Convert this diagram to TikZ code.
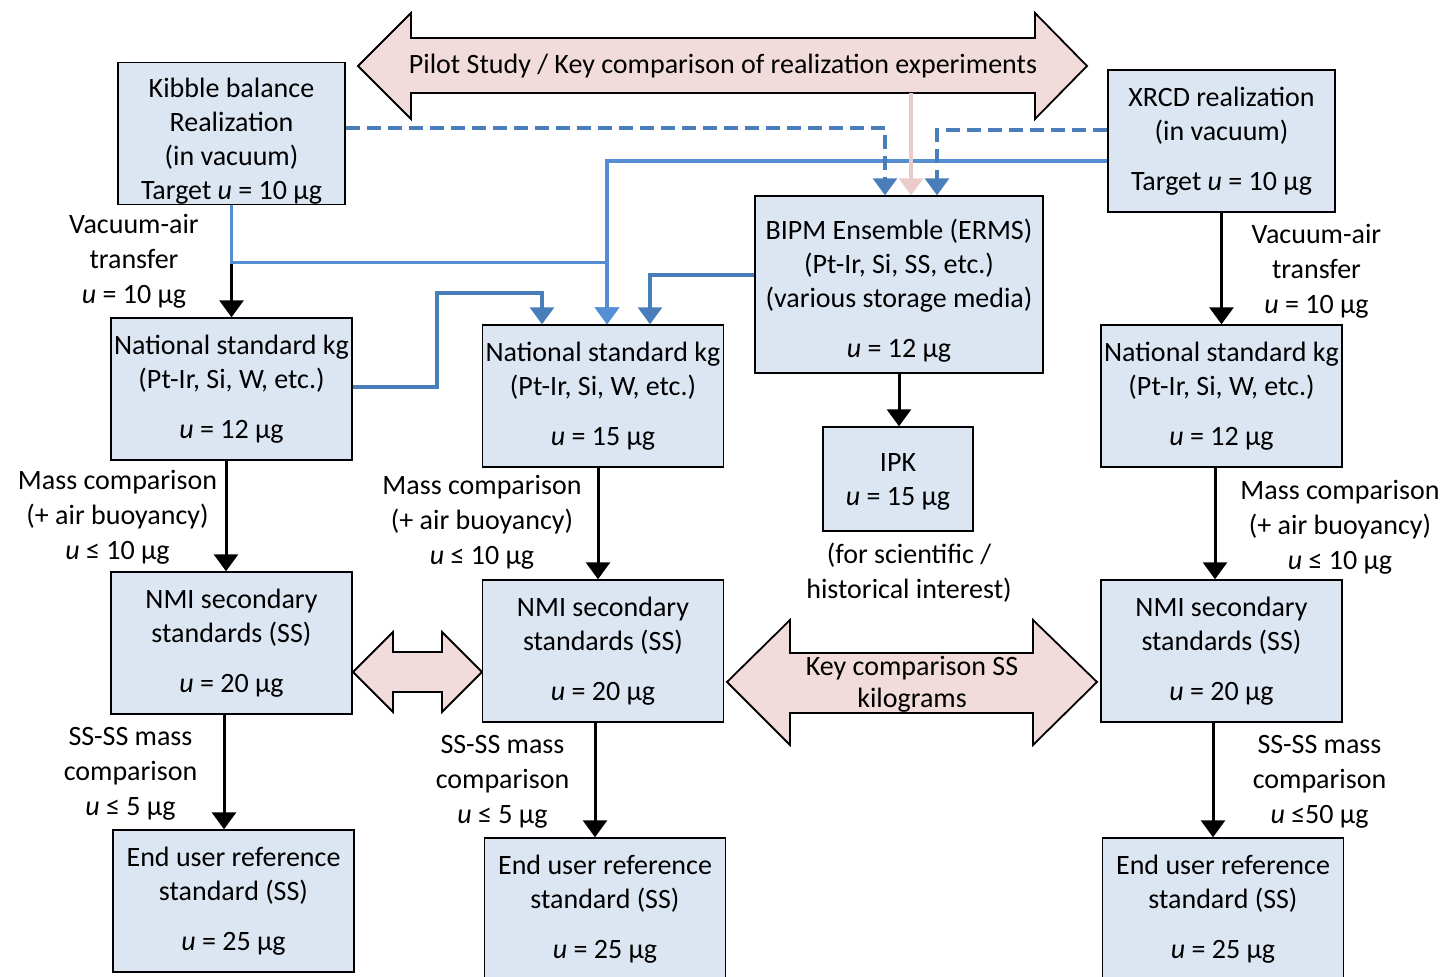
\documentclass[tikz,border=0pt]{standalone}
\usepackage{fontspec}
\setmainfont{Carlito}
\usetikzlibrary{arrows.meta,calc}
\usepackage{xcolor}
\definecolor{boxblue}{HTML}{DCE6F2}
\definecolor{pinkfill}{HTML}{F2DCDB}
\definecolor{pinkline}{HTML}{EBCBCA}
\definecolor{darkblue}{HTML}{4A7EBB}
\definecolor{lightblue}{HTML}{558ED5}
\tikzset{
  stdbox/.style={draw=black, line width=0.7pt, fill=boxblue, align=center, inner sep=0pt,
    minimum width=120.5pt, minimum height=71pt, font=\fontsize{14}{17}\selectfont},
  lbl/.style={align=center, inner sep=0pt, font=\fontsize{14}{17.5}\selectfont},
  bigarrow/.style={draw=black, line width=0.9pt, fill=pinkfill},
  blackarrow/.style={-{Triangle[width=12pt,length=8.5pt]}, line width=1.5pt, draw=black},
  bluearrow/.style={-{Triangle[width=12pt,length=8.5pt]}, line width=1.6pt, draw=darkblue},
  lightarrow/.style={bluearrow, draw=lightblue},
  dasharrow/.style={bluearrow, dash pattern=on 7pt off 3.5pt},
  pinkarrow/.style={bluearrow, draw=pinkline}
}
\newcommand{\topstrut}[1]{\rule{0pt}{#1}}

\begin{document}
\begin{tikzpicture}[x=0.5pt, y=-0.5pt]
  \useasboundingbox (0,0) rectangle (1447,977);

  % double arrows
  \draw[bigarrow] (358,66) -- (411,13) -- (411,38) -- (1035,38) -- (1035,13) -- (1087,66)
    -- (1035,119) -- (1035,93) -- (411,93) -- (411,119) -- cycle;
  \draw[bigarrow] (353,672) -- (393,632) -- (393,652) -- (442,652) -- (442,632) -- (482,672)
    -- (442,712) -- (442,692) -- (393,692) -- (393,712) -- cycle;
  \draw[bigarrow] (727,682) -- (790,620) -- (790,653) -- (1033,653) -- (1033,620) -- (1097,682)
    -- (1033,745) -- (1033,713) -- (790,713) -- (790,745) -- cycle;
  \node[lbl] (pilot) at (723,66) {Pilot Study / Key comparison of realization experiments};
  \node[lbl, font=\fontsize{14}{16}\selectfont] (keycomp) at (912,684) {Key comparison SS\\kilograms};
  \coordinate (pilotfoot) at (911,93);

  % boxes
  \node[stdbox, minimum width=113.5pt] (kibble) at (231.5,133.5)
    {\topstrut{17.5pt}Kibble balance\\Realization\\(in vacuum)\\Target \textit{u} = 10 µg};
  \node[stdbox, minimum width=113.5pt] (xrcd) at (1221.5,141)
    {XRCD realization\\(in vacuum)\\[8pt]Target \textit{u} = 10 µg};
  \node[stdbox, minimum width=144pt, minimum height=88.5pt] (bipm) at (899,284.5)
    {\topstrut{16.5pt}BIPM Ensemble (ERMS)\\(Pt-Ir, Si, SS, etc.)\\(various storage media)\\[8pt]\textit{u} = 12 µg};
  \node[stdbox, minimum width=75pt, minimum height=52pt] (ipk) at (898,479)
    {\topstrut{11.5pt}IPK\\\textit{u} = 15 µg};

  \node[stdbox] (nsl) at (231.5,389) {National standard kg\\(Pt-Ir, Si, W, etc.)\\[8pt]\textit{u} = 12 µg};
  \node[stdbox] (nsm) at (603,396) {National standard kg\\(Pt-Ir, Si, W, etc.)\\[8pt]\textit{u} = 15 µg};
  \node[stdbox] (nsr) at (1221.5,396) {National standard kg\\(Pt-Ir, Si, W, etc.)\\[8pt]\textit{u} = 12 µg};

  \node[stdbox] (ssl) at (231.5,643) {NMI secondary\\standards (SS)\\[8pt]\textit{u} = 20 µg};
  \node[stdbox] (ssm) at (603,651) {NMI secondary\\standards (SS)\\[8pt]\textit{u} = 20 µg};
  \node[stdbox] (ssr) at (1221.5,651) {NMI secondary\\standards (SS)\\[8pt]\textit{u} = 20 µg};

  \node[stdbox] (eul) at (233.5,901) {End user reference\\standard (SS)\\[8pt]\textit{u} = 25 µg};
  \node[stdbox] (eum) at (605,909) {End user reference\\standard (SS)\\[8pt]\textit{u} = 25 µg};
  \node[stdbox] (eur) at (1223,909) {End user reference\\standard (SS)\\[8pt]\textit{u} = 25 µg};

  % labels
  \node[lbl] (vacl) at (134,261) {Vacuum-air\\transfer\\\textit{u} = 10 µg};
  \node[lbl] (vacr) at (1316.5,271) {Vacuum-air\\transfer\\\textit{u} = 10 µg};
  \node[lbl] (massl) at (117.5,517) {Mass comparison\\(+ air buoyancy)\\\textit{u} ≤ 10 µg};
  \node[lbl] (massm) at (482,522) {Mass comparison\\(+ air buoyancy)\\\textit{u} ≤ 10 µg};
  \node[lbl] (massr) at (1340,527) {Mass comparison\\(+ air buoyancy)\\\textit{u} ≤ 10 µg};
  \node[lbl] (ssssl) at (130.5,774) {SS-SS mass\\comparison\\\textit{u} ≤ 5 µg};
  \node[lbl] (ssssm) at (502.5,782) {SS-SS mass\\comparison\\\textit{u} ≤ 5 µg};
  \node[lbl] (ssssr) at (1319.5,782) {SS-SS mass\\comparison\\\textit{u} ≤50 µg};
  \node[lbl] (histnote) at (909,573) {(for scientific /\\historical interest)};

  % black chain arrows
  \draw[blackarrow] (kibble.south) coordinate (t) -- (t |- nsl.north);
  \draw[blackarrow] ($(nsl.south)+(-5.5,0)$) coordinate (t) -- (t |- ssl.north);
  \draw[blackarrow] ($(ssl.south)+(-7.5,0)$) coordinate (t) -- (t |- eul.north);
  \draw[blackarrow] ($(nsm.south)+(-5,0)$) coordinate (t) -- (t |- ssm.north);
  \draw[blackarrow] ($(ssm.south)+(-8,0)$) coordinate (t) -- (t |- eum.north);
  \draw[blackarrow] (xrcd.south) coordinate (t) -- (t |- nsr.north);
  \draw[blackarrow] ($(nsr.south)+(-6.5,0)$) coordinate (t) -- (t |- ssr.north);
  \draw[blackarrow] ($(ssr.south)+(-8.5,0)$) coordinate (t) -- (t |- eur.north);
  \draw[blackarrow] (bipm.south) coordinate (t) -- (t |- ipk.north);

  % links to the BIPM ensemble
  \draw[lightarrow] ([yshift=-10pt]xrcd.west) -| ([xshift=2pt]nsm.north);
  \draw[dasharrow] ([yshift=2.75pt]kibble.east) -| ([xshift=-7pt]bipm.north);
  \draw[dasharrow] ([yshift=5.5pt]xrcd.west) -| ([xshift=19pt]bipm.north);
  \draw[pinkarrow] (pilotfoot) -- (pilotfoot |- bipm.north);

  % links to the middle national standard
  \draw[lightarrow] (kibble.south) -- ++(0,57) -| ([xshift=2pt]nsm.north);
  \draw[bluearrow] ([yshift=1pt]nsl.east) -| (437,293) -| ([xshift=-30.5pt]nsm.north);
  \draw[bluearrow] ([yshift=4.75pt]bipm.west) -| ([xshift=23.5pt]nsm.north);
\end{tikzpicture}
\end{document}
